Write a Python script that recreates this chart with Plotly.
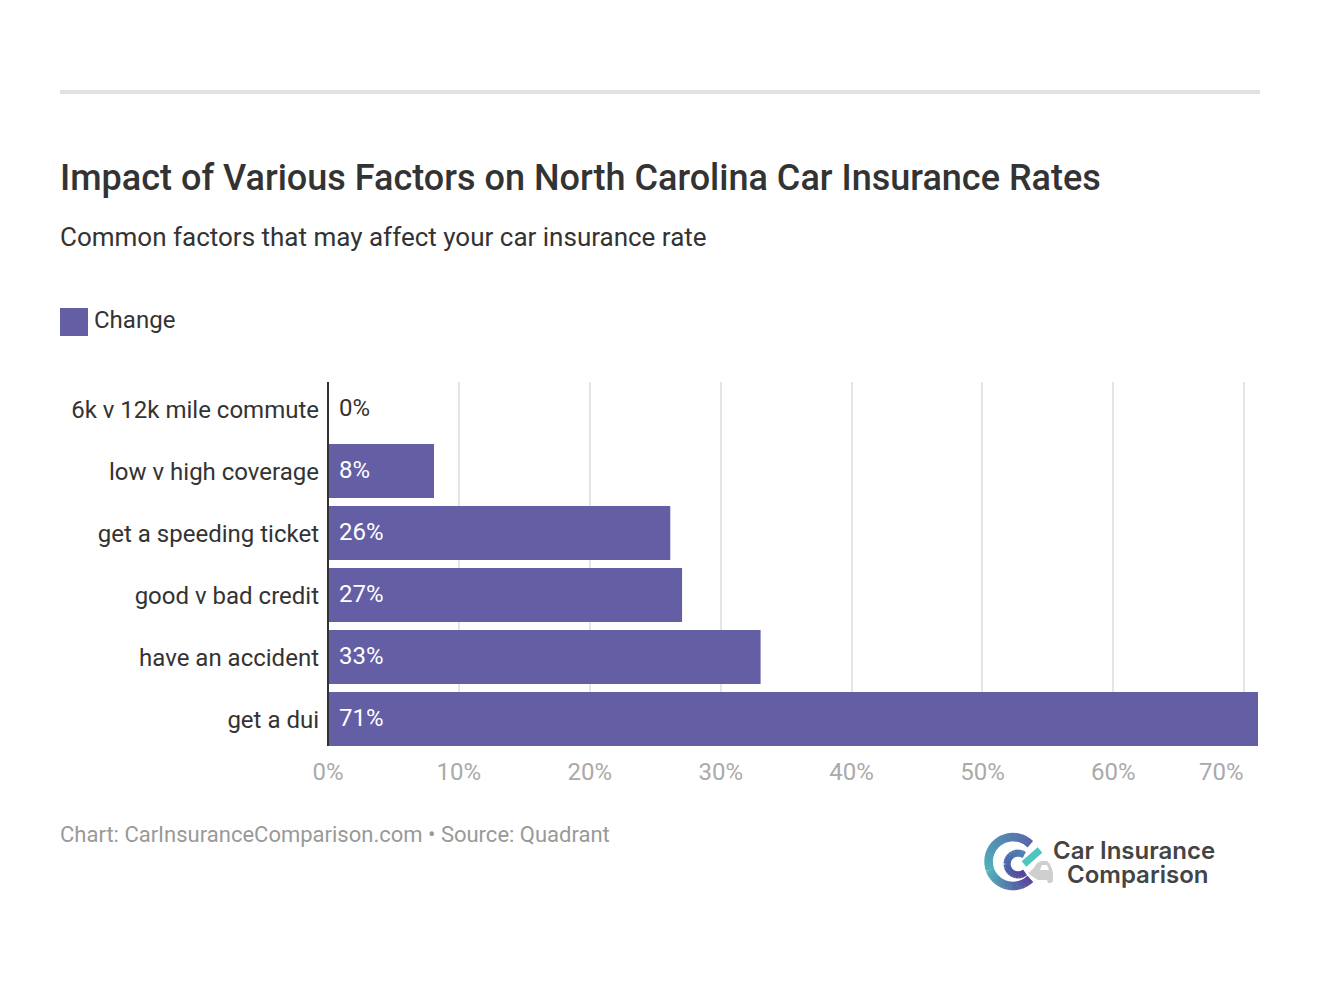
import math
import plotly.graph_objects as go

categories = ["6k v 12k mile commute", "low v high coverage", "get a speeding ticket",
              "good v bad credit", "have an accident", "get a dui"]
change = [0, 8.1, 26.15, 27.05, 33.05, 71.05]
value_labels = ["0%", "8%", "26%", "27%", "33%", "71%"]
x_ticks = [0, 10, 20, 30, 40, 50, 60, 70]
x_tick_labels = ["0%", "10%", "20%", "30%", "40%", "50%", "60%", ""]
series_name = "Change"
BAR = "#645ea5"
FONT = "Roboto"
W, H = 1320, 992
L, R, T, B = 328, 1258, 382, 746


def px(x):
    return (x - L) / (R - L)


def py(y):
    return (B - y) / (B - T)


fig = go.Figure(go.Bar(
    y=categories, x=change, orientation="h", name=series_name,
    marker=dict(color=BAR, line_width=0), width=54 / 62, showlegend=False,
    hovertemplate="%{y}: %{x}%<extra></extra>",
))

ann = []


def text(x, y, s, size, color, anchor="left", weight=None, family=FONT):
    ann.append(dict(xref="paper", yref="paper", x=px(x), y=py(y), text=s, showarrow=False,
                    xanchor=anchor, yanchor="middle", align=anchor, borderpad=0, borderwidth=0,
                    font=dict(family=family, size=size, color=color,
                              **({"weight": weight} if weight else {}))))


text(60, 178, "Impact of Various Factors on North Carolina Car Insurance Rates", 36.03, "#333333", weight=500)
text(60, 237, "Common factors that may affect your car insurance rate", 26, "#333333")
text(94, 320, series_name, 24, "#333333")
text(60, 834.5, "Chart: CarInsuranceComparison.com • Source: Quadrant", 22, "#999999")
text(1244, 772, "70%", 24, "#aaaaaa", anchor="right")

for c, lab in zip(categories, value_labels):
    ann.append(dict(x=0, y=c, xref="x", yref="y", text=lab, showarrow=False, xanchor="left",
                    xshift=11, yshift=1, borderpad=0, borderwidth=0,
                    font=dict(family=FONT, size=24, color="#333333" if lab == "0%" else "#ffffff")))

shapes = [
    dict(type="rect", xref="paper", yref="paper", x0=px(60), x1=px(1260), y0=py(90), y1=py(94),
         fillcolor="#e2e2e2", line_width=0),
    dict(type="rect", xref="paper", yref="paper", x0=px(60), x1=px(88), y0=py(308), y1=py(336),
         fillcolor=BAR, line_width=0),
    dict(type="line", xref="paper", yref="paper", x0=px(328), x1=px(328), y0=py(382), y1=py(746),
         line=dict(color="#333333", width=2), layer="above"),
]


# ---- brand mark in the corner ----
def mix(a, b, t):
    return "#" + "".join(f"{round(p + (q - p) * t):02x}" for p, q in zip(a, b))


def arc(cx, cy, r, width, a0, a1, c0, c1, n=36):
    for i in range(n):
        t0 = a0 + (a1 - a0) * i / n
        t1 = a0 + (a1 - a0) * (i + 1.25) / n if i < n - 1 else a1
        p0 = (px(cx + r * math.cos(t0)), py(cy + r * math.sin(t0)))
        p1 = (px(cx + r * math.cos(t1)), py(cy + r * math.sin(t1)))
        shapes.append(dict(type="line", xref="paper", yref="paper", x0=p0[0], y0=p0[1], x1=p1[0], y1=p1[1],
                           line=dict(color=mix(c0, c1, i / (n - 1)), width=width)))


def poly(points, fill):
    d = "M " + " L ".join(f"{px(a)} {py(b)}" for a, b in points) + " Z"
    shapes.append(dict(type="path", xref="paper", yref="paper", path=d, fillcolor=fill, line_width=0))


TEAL, PURPLE = (0x4f, 0xaf, 0xbb), (0x57, 0x43, 0x9b)
car_body = [(1028, 873), (1033, 869), (1037, 863), (1041, 861), (1047, 861), (1050, 864), (1052, 869),
            (1053, 873), (1053, 881), (1051, 883), (1048, 883), (1047, 880), (1038, 880), (1033, 877)]
windshield = [(1040, 870), (1042, 865), (1047, 865), (1049, 870)]
poly(car_body, "#cfcfcf")
poly(windshield, "#ffffff")
arc(1013, 861.5, 24.5, 8.5, math.radians(-45), math.radians(-200), (0x5a, 0x66, 0xaa), TEAL, 20)
arc(1013, 861.5, 24.5, 8.5, math.radians(160), math.radians(45), TEAL, PURPLE, 28)
arc(1018, 864, 11, 7, math.radians(-55), math.radians(-180), (0x4f, 0x80, 0xb0), (0x4c, 0x66, 0xa8), 10)
arc(1018, 864, 11, 7, math.radians(180), math.radians(50), (0x4c, 0x66, 0xa8), PURPLE, 10)
shapes.append(dict(type="line", xref="paper", yref="paper", x0=px(1024), y0=py(864), x1=px(1040), y1=py(850),
                   line=dict(color="#4fc4c0", width=7)))
text(1134, 850, "Car Insurance", 24, "#444444", anchor="center", weight=600, family="Inter")
text(1137, 874, "Comparison", 24, "#444444", anchor="center", weight=600, family="Inter")

fig.update_layout(
    width=W, height=H, autosize=False,
    margin=dict(l=L, r=W - R, t=T, b=H - B, pad=0),
    paper_bgcolor="white", plot_bgcolor="white",
    font=dict(family=FONT, color="#333333"),
    showlegend=False, annotations=ann, shapes=shapes,
    xaxis=dict(range=[0, 71.05], tickvals=x_ticks, ticktext=x_tick_labels, showgrid=True,
               gridcolor="#e5e5e5", gridwidth=2, zeroline=False, showline=False, ticks="",
               ticklabelstandoff=9,
               tickfont=dict(family=FONT, size=24, color="#aaaaaa"), fixedrange=True),
    yaxis=dict(categoryorder="array", categoryarray=categories, range=[5.4355, -0.4355],
               showgrid=False, zeroline=False, showline=False,
               ticks="", ticklabelstandoff=8, ticklabelshift=-1,
               tickfont=dict(family=FONT, size=24, color="#333333"), fixedrange=True),
)

fig.write_html("out.html", config=dict(displayModeBar=False),
               post_script="document.body.style.margin='0';document.body.style.overflow='hidden';")
